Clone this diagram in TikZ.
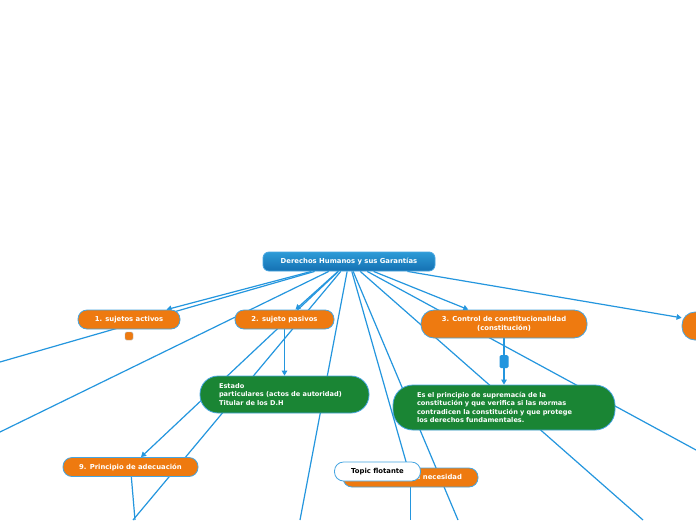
\documentclass[tikz,border=0pt]{standalone}
\usepackage{fontspec}
\setmainfont{DejaVu Sans}
\usetikzlibrary{arrows.meta,backgrounds}
\definecolor{mapBlue}{RGB}{36,150,222}
\definecolor{mapEdge}{RGB}{70,165,225}
\definecolor{mapOrange}{RGB}{238,122,16}
\definecolor{mapGreen}{RGB}{26,133,52}
\definecolor{rootTop}{RGB}{45,155,215}
\definecolor{rootBottom}{RGB}{20,112,178}

\begin{document}
\begin{tikzpicture}[x=1pt, y=-1pt,
    txt/.style={font=\fontsize{6.85}{8.5}\selectfont\bfseries},
    root/.style={txt, rectangle, rounded corners=6pt, draw=mapEdge, line width=0.8pt,
                 top color=rootTop, bottom color=rootBottom, text=white,
                 minimum width=172pt, minimum height=19pt, inner sep=0pt},
    topic/.style={txt, rectangle, rounded corners=9pt, draw=mapEdge, line width=0.8pt,
                  fill=mapOrange, text=white, minimum height=19pt, inner sep=0pt},
    note/.style={font=\fontsize{6.6}{8.5}\selectfont\bfseries, rectangle, rounded corners=18pt,
                 draw=mapEdge, line width=0.8pt, fill=mapGreen, text=white, align=left,
                 inner ysep=0pt},
    floater/.style={topic, fill=white, text=black},
    fold/.style={rectangle, rounded corners=1.5pt, fill=mapBlue, minimum width=9pt,
                 minimum height=13pt, inner sep=0pt},
    link/.style={mapBlue, line width=1.2pt},
    arr/.style={link, -{Triangle[length=5pt, width=5.5pt]}}]

    \useasboundingbox (0,0) rectangle (696,520);
    \clip (0,0) rectangle (696,520);

    % Central topic
    \node[root] (root) at (349,261.5) {Derechos Humanos y sus Garantías};

    % Main topics
    \node[topic, minimum width=102pt] (act) at (129,319.5) {1. sujetos activos};
    \node[topic, minimum width=8pt, minimum height=8pt, rounded corners=1.5pt,
          draw=gray!60, line width=0.4pt] (actbadge) at (129,336) {};
    \node[topic, minimum width=99pt] (pas) at (284.5,319.5) {2. sujeto pasivos};
    \node[topic, minimum width=166pt, minimum height=28pt, rounded corners=13pt, align=center]
        (ctrl) at (504,324) {3. Control de constitucionalidad\\(constitución)};
    \node[topic, minimum width=96pt, minimum height=28pt, rounded corners=13pt] (far) at (730,326) {};
    \node[topic, minimum width=135pt] (adec) at (130.5,467) {9. Principio de adecuación};
    \node[topic, minimum width=135pt, text width=103pt, align=right] (nec) at (410.5,477.5)
        {Principio de necesidad};

    % Notes
    \node[note, text width=131pt, inner xsep=19pt, minimum height=37pt] (est) at (284.5,394.5)
        {Estado\\particulares (actos de autoridad)\\Titular de los D.H};
    \node[note, text width=174pt, inner xsep=24pt, minimum height=45pt, rounded corners=20pt]
        (supr) at (504,407.5)
        {Es el principio de supremacía de la\\constitución y que verifica si las normas\\contradicen la constitución y que protege\\los derechos fundamentales.};
    \node[fold] (ctrlfold) at (504,361.5) {};

    % Floating topic
    \node[floater, minimum width=86pt] (flot) at (377.5,471.5) {Topic flotante};

    % Ends of branches outside the frame
    \coordinate (outA) at (0,362);
    \coordinate (outB) at (0,432);
    \coordinate (outC) at (133,520);
    \coordinate (outD) at (300,520);
    \coordinate (outE) at (458,520);
    \coordinate (outF) at (643,520);
    \coordinate (outG) at (696,450);
    \coordinate (outH) at (135,520);
    \coordinate (outI) at (410.5,520);

    % Connectors
    \begin{scope}[on background layer]
      \fill[white] (0,0) rectangle (696,520);
      \draw[arr] (root) -- (act);
      \draw[arr] (root) -- (pas);
      \draw[arr] (root) -- (ctrl);
      \draw[arr] (root) -- (far);
      \draw[arr] (root) -- (adec);
      \draw[arr] (root) -- (nec);
      \draw[arr] (pas) -- (est);
      \draw[link] (ctrl) -- (ctrlfold);
      \draw[arr] (ctrlfold) -- (supr);
      \draw[link] (root) -- (outA);
      \draw[link] (root) -- (outB);
      \draw[link] (root) -- (outC);
      \draw[link] (root) -- (outD);
      \draw[link] (root) -- (outE);
      \draw[link] (root) -- (outF);
      \draw[link] (root) -- (outG);
      \draw[link] (adec) -- (outH);
      \draw[link] (nec) -- (outI);
    \end{scope}

\end{tikzpicture}
\end{document}
